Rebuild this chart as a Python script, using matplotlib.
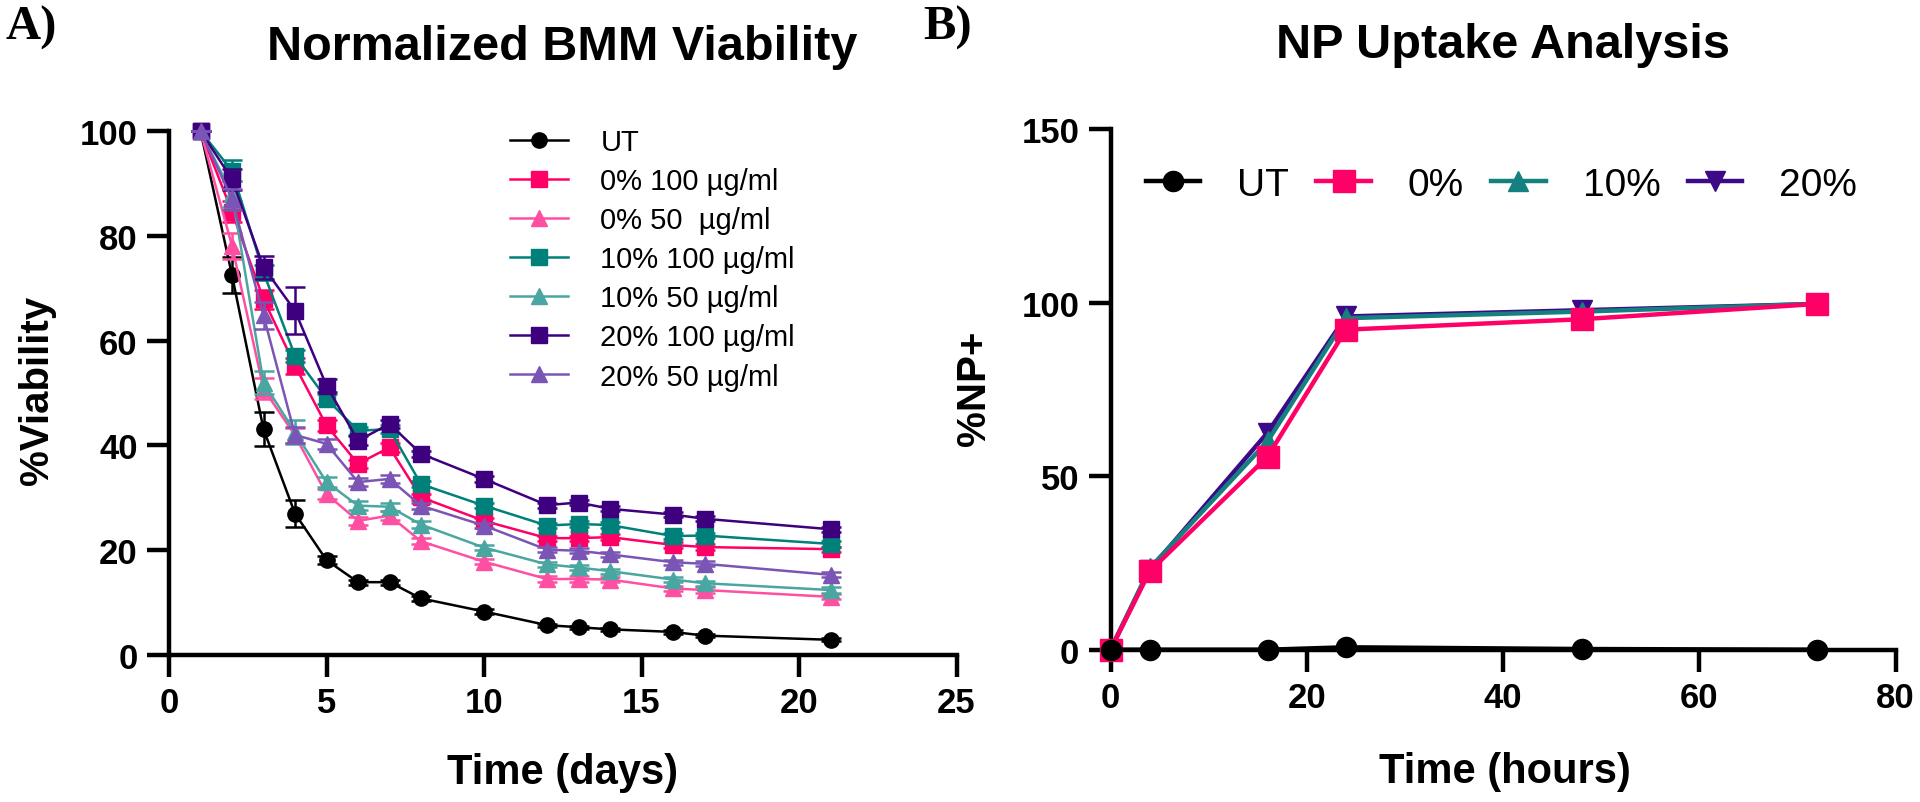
import matplotlib
matplotlib.use("Agg")
import matplotlib.pyplot as plt

plt.rcParams['font.family'] = ['Liberation Sans', 'DejaVu Sans']

# ---------------- data: panel A ----------------
days = [1, 2, 3, 4, 5, 6, 7, 8, 10, 12, 13, 14, 16, 17, 21]
labels_a = ["UT", "0% 100 µg/ml", "0% 50  µg/ml", "10% 100 µg/ml",
            "10% 50 µg/ml", "20% 100 µg/ml", "20% 50 µg/ml"]
ut_a = [100, 72.5, 43.1, 27.0, 18.1, 13.9, 13.9, 10.8, 8.3, 5.7, 5.3, 4.9, 4.4, 3.7, 2.9]
p0_100 = [100, 84.6, 67.9, 55.2, 43.8, 36.5, 39.6, 30.1, 25.6, 22.3, 22.3, 22.5, 21.0, 20.6, 20.2]
p0_50 = [100, 78.1, 50.8, 41.9, 30.7, 25.6, 26.6, 21.7, 17.8, 14.5, 14.5, 14.4, 12.7, 12.4, 11.1]
p10_100 = [100, 92.4, 73.0, 57.1, 48.9, 42.8, 43.1, 32.6, 28.5, 24.7, 25.0, 24.8, 22.7, 22.8, 21.2]
p10_50 = [100, 88.0, 52.0, 42.5, 33.0, 28.5, 28.3, 24.9, 20.5, 17.3, 16.7, 16.0, 14.4, 13.7, 12.4]
p20_100 = [100, 90.8, 74.0, 65.7, 51.4, 40.9, 44.1, 38.4, 33.6, 28.6, 29.1, 27.9, 26.8, 26.0, 24.0]
p20_50 = [100, 87.0, 64.8, 42.0, 40.3, 33.0, 33.6, 28.5, 24.7, 20.1, 19.9, 19.2, 17.7, 17.4, 15.3]

err_ut = [0, 3.5, 3.2, 2.5, 0.8, 0.5, 0.5, 0.5, 0.5, 0.3, 0.3, 0.3, 0.3, 0.3, 0.3]
err_p0_100 = [0, 2.0, 1.8, 1.5, 1.0, 0.8, 0.8, 0.6, 0.5, 0.5, 0.5, 0.5, 0.5, 0.5, 0.5]
err_p0_50 = [0, 2.5, 2.0, 1.5, 1.0, 0.8, 0.8, 0.6, 0.5, 0.5, 0.5, 0.5, 0.5, 0.5, 0.5]
err_p10_100 = [0, 2.0, 1.5, 1.2, 1.0, 0.8, 0.8, 0.6, 0.5, 0.5, 0.5, 0.5, 0.5, 0.5, 0.5]
err_p10_50 = [0, 2.5, 2.2, 2.3, 1.0, 0.8, 0.8, 0.6, 0.5, 0.5, 0.5, 0.5, 0.5, 0.5, 0.5]
err_p20_100 = [0, 2.0, 2.2, 4.5, 1.2, 0.8, 0.8, 0.6, 0.5, 0.5, 0.5, 0.5, 0.5, 0.5, 0.5]
err_p20_50 = [0, 2.0, 2.5, 1.5, 1.0, 0.8, 0.8, 0.6, 0.5, 0.5, 0.5, 0.5, 0.5, 0.5, 0.5]

# ---------------- data: panel B ----------------
hours = [0, 4, 16, 24, 48, 72]
labels_b = ["UT", "0%", "10%", "20%"]
ut_b = [0, 0, 0, 0.7, 0.2, 0]
np0 = [0, 22.6, 55.6, 92.2, 95.2, 99.6]
np10 = [0, 23.5, 60.0, 95.5, 97.4, 99.6]
np20 = [0, 23.0, 62.5, 96.0, 97.8, 99.6]

W, H = 1920, 803
fig = plt.figure(figsize=(W / 100, H / 100), dpi=100)


def fx(px):
    return px / W


def fy(py):
    return 1 - py / H


# ---------------- panel A ----------------
axA = fig.add_axes([fx(169), fy(656), fx(956.5) - fx(169), fy(132) - fy(656)])
series_a = [
    (ut_a, err_ut, "black", "o", 11),
    (p0_100, err_p0_100, "#FF0066", "s", 11.5),
    (p0_50, err_p0_50, "#FF4FA3", "^", 12),
    (p10_100, err_p10_100, "#00807A", "s", 11.5),
    (p10_50, err_p10_50, "#4AA6A1", "^", 12),
    (p20_100, err_p20_100, "#3F0080", "s", 11.5),
    (p20_50, err_p20_50, "#7B55B5", "^", 12),
]
handles_a = [None] * len(series_a)
for i in reversed(range(len(series_a))):
    vals, errs, col, mk, ms = series_a[i]
    axA.errorbar(days, vals, yerr=errs, fmt='none', ecolor=col, elinewidth=1.8,
                 capsize=7, capthick=1.8, zorder=2 + i * 0.1, clip_on=False)
    ln, = axA.plot(days, vals, color=col, marker=mk, markersize=ms, lw=1.8,
                   zorder=2.05 + i * 0.1, clip_on=False, label=labels_a[i])
    handles_a[i] = ln

axA.set_xlim(0, 25)
axA.set_ylim(0, 100)
axA.set_xticks([0, 5, 10, 15, 20, 25])
axA.set_yticks([0, 20, 40, 60, 80, 100])
for s in ["top", "right"]:
    axA.spines[s].set_visible(False)
for s in ["left", "bottom"]:
    axA.spines[s].set_linewidth(3.2)
axA.tick_params(direction='out', length=15.5, width=3.2, labelsize=25, pad=7)
for t in axA.get_xticklabels() + axA.get_yticklabels():
    t.set_fontweight('bold')

legA = fig.legend(handles=handles_a, labels=labels_a, loc='upper left',
                  bbox_to_anchor=(fx(510), fy(129)), bbox_transform=fig.transFigure,
                  frameon=False, borderpad=0, borderaxespad=0, fontsize=21,
                  handlelength=2.0, handletextpad=1.1, labelspacing=0.38)

fig.text(fx(37), fy(390), "%Viability", rotation=90, ha='center', va='center',
         fontsize=29, fontweight='bold')
fig.text(fx(563), fy(773), "Time (days)", ha='center', va='center',
         fontsize=30, fontweight='bold')
fig.text(fx(562), fy(60), "Normalized BMM Viability", ha='center', va='baseline',
         fontsize=35, fontweight='bold')
fig.text(fx(6), fy(40), "A)", ha='left', va='baseline', fontsize=35,
         fontweight='bold', family=['Liberation Serif', 'DejaVu Serif'])

# ---------------- panel B ----------------
axB = fig.add_axes([fx(1110.5), fy(650.7), fx(1895.5) - fx(1110.5), fy(130) - fy(650.7)])
series_b = [
    (ut_b, "black", "o", 14.5),
    (np0, "#FF0066", "s", 15.5),
    (np10, "#158080", "^", 15),
    (np20, "#3C0A87", "v", 15),
]
handles_b = [None] * len(series_b)
for i in reversed(range(len(series_b))):
    vals, col, mk, ms = series_b[i]
    ln, = axB.plot(hours, vals, color=col, marker=mk, markersize=ms, lw=3.2,
                   zorder=3 + (len(series_b) - i) * 0.1, clip_on=False, label=labels_b[i])
    handles_b[i] = ln

axB.set_xlim(0, 80)
axB.set_ylim(0, 150)
axB.set_xticks([0, 20, 40, 60, 80])
axB.set_yticks([0, 50, 100, 150])
for s in ["top", "right"]:
    axB.spines[s].set_visible(False)
for s in ["left", "bottom"]:
    axB.spines[s].set_linewidth(3.2)
axB.tick_params(direction='out', length=15.5, width=3.2, labelsize=25, pad=7)
for t in axB.get_xticklabels() + axB.get_yticklabels():
    t.set_fontweight('bold')

legB = fig.legend(handles=handles_b, labels=labels_b, loc='upper left', ncol=4,
                  bbox_to_anchor=(fx(1146), fy(168)), bbox_transform=fig.transFigure,
                  frameon=False, borderpad=0, borderaxespad=0, fontsize=28,
                  handlelength=1.4, handletextpad=0.95, columnspacing=0.7)

fig.text(fx(974), fy(388), "%NP+", rotation=90, ha='center', va='center',
         fontsize=29, fontweight='bold')
fig.text(fx(1505), fy(772), "Time (hours)", ha='center', va='center',
         fontsize=30, fontweight='bold')
fig.text(fx(1503), fy(58), "NP Uptake Analysis", ha='center', va='baseline',
         fontsize=35, fontweight='bold')
fig.text(fx(923), fy(40), "B)", ha='left', va='baseline', fontsize=35,
         fontweight='bold', family=['Liberation Serif', 'DejaVu Serif'])

fig.savefig("out.png", dpi=100)
